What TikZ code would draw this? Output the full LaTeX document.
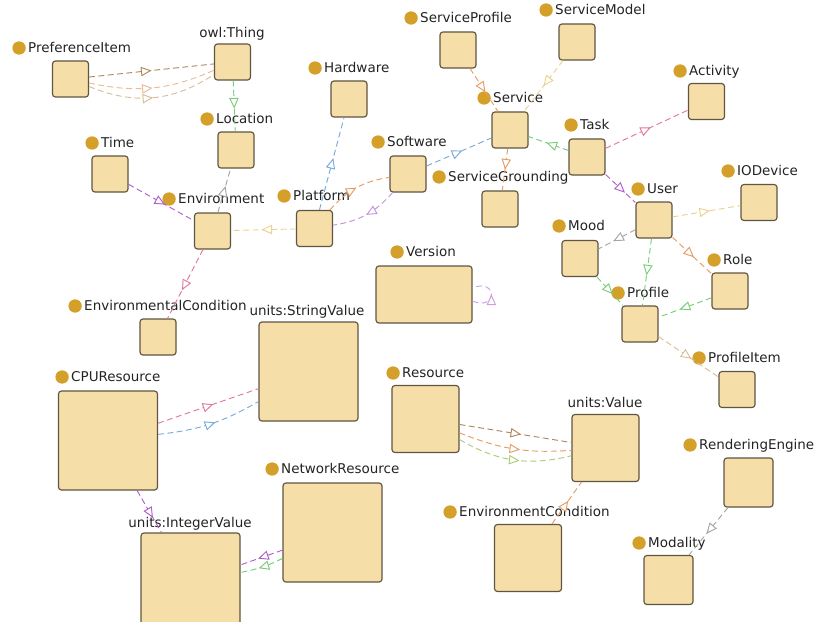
\documentclass[tikz,border=0pt]{standalone}
\usepackage{fontspec}
\setmainfont{DejaVu Sans}
\usetikzlibrary{arrows.meta,decorations.markings}

\definecolor{boxfill}{RGB}{245,222,168}
\definecolor{boxline}{RGB}{95,85,65}
\definecolor{dotcol}{RGB}{212,160,42}
\definecolor{txtcol}{RGB}{35,35,35}
\definecolor{egreen}{RGB}{120,205,120}
\definecolor{egrey}{RGB}{165,165,165}
\definecolor{epurple}{RGB}{175,95,205}
\definecolor{epink}{RGB}{225,120,160}
\definecolor{eblue}{RGB}{120,170,220}
\definecolor{eorange}{RGB}{230,155,100}
\definecolor{eyellow}{RGB}{235,210,140}
\definecolor{etan}{RGB}{215,190,150}
\definecolor{ebrown}{RGB}{175,135,95}
\definecolor{elime}{RGB}{170,205,120}

\begin{document}
\begin{tikzpicture}[x=0.03cm, y=-0.03cm,
	cls/.style={draw=boxline, fill=boxfill, line width=1pt, rounded corners=2.5pt, minimum size=1.08cm, inner sep=0pt},
	mid/.style={cls, minimum size=2.01cm},
	big/.style={cls, minimum size=2.97cm},
	title/.style={inner sep=0pt, text height=0.76em, text depth=0pt, text=txtcol, font=\fontsize{11.5}{13}\selectfont},
	dot/.style={circle, fill=dotcol, minimum size=0.4cm, inner sep=0pt},
	tag/.style={title, anchor=west, label={[dot, label distance=0.06cm]left:{}}},
	link/.style={line width=0.8pt, dash pattern=on 5pt off 3pt},
	arr/.style={postaction={decorate}, decoration={markings, mark=at position #1 with {\arrow[line width=0.8pt]{Triangle[fill=white, length=9pt, width=8pt]}}}}]

		\useasboundingbox (0,0) rectangle (817,622);
		\clip (0,0) rectangle (817,622);

		\node[cls] (prefitem) at (70.5,79) {};
		\node[cls] (thing) at (232.5,62) {};
		\node[cls] (location) at (236,150) {};
		\node[cls] (time) at (110,174) {};
		\node[cls] (environment) at (212.5,231) {};
		\node[cls] (hardware) at (349,99) {};
		\node[cls] (serviceprofile) at (458,50) {};
		\node[cls] (servicemodel) at (577,42) {};
		\node[cls] (service) at (510,130) {};
		\node[cls] (software) at (408,174) {};
		\node[cls] (grounding) at (500,209) {};
		\node[cls] (platform) at (314.5,228.5) {};
		\node[cls] (activity) at (706.5,101.5) {};
		\node[cls] (task) at (587,157) {};
		\node[cls] (user) at (654,220) {};
		\node[cls] (iodevice) at (759,202.5) {};
		\node[cls] (mood) at (580,258.5) {};
		\node[cls] (role) at (730,291) {};
		\node[cls] (profile) at (640,324) {};
		\node[cls] (profileitem) at (737,389.5) {};
		\node[cls] (envcond) at (158,337) {};
		\node[cls, minimum width=2.88cm, minimum height=1.71cm] (version) at (424,294.5) {};
		\node[mid] (value) at (605.5,448) {};
		\node[mid] (resource) at (425.5,419) {};
		\node[mid] (envcondition) at (528,558) {};
		\node[cls, minimum size=1.47cm] (rendering) at (748.5,482.5) {};
		\node[cls, minimum size=1.47cm] (modality) at (668.5,580) {};
		\node[big] (stringvalue) at (308.5,371.5) {};
		\node[big] (cpu) at (108,440.5) {};
		\node[big] (network) at (332.5,532.5) {};
		\node[big] (intvalue) at (190.5,582.5) {};

		\node[tag] (prefitemlbl) at (28,48) {PreferenceItem};
		\node[title] (thinglbl) at (232,33) {owl:Thing};
		\node[tag] (locationlbl) at (216,119) {Location};
		\node[tag] (timelbl) at (101,143) {Time};
		\node[tag] (environmentlbl) at (178,199) {Environment};
		\node[tag] (hardwarelbl) at (324,68) {Hardware};
		\node[tag] (serviceprofilelbl) at (420,18) {ServiceProfile};
		\node[tag] (servicemodellbl) at (555,10) {ServiceModel};
		\node[tag] (servicelbl) at (493,98) {Service};
		\node[tag] (softwarelbl) at (387,142) {Software};
		\node[tag] (groundinglbl) at (448,177) {ServiceGrounding};
		\node[tag] (platformlbl) at (293,196) {Platform};
		\node[tag] (activitylbl) at (689,71) {Activity};
		\node[tag] (tasklbl) at (580,125) {Task};
		\node[tag] (userlbl) at (647,189) {User};
		\node[tag] (iodevicelbl) at (737,171) {IODevice};
		\node[tag] (moodlbl) at (568,226) {Mood};
		\node[tag] (rolelbl) at (723,260) {Role};
		\node[tag] (profilelbl) at (627,293) {Profile};
		\node[tag] (profileitemlbl) at (708,358) {ProfileItem};
		\node[title] (valuelbl) at (605,403) {units:Value};
		\node[tag] (resourcelbl) at (402,373) {Resource};
		\node[tag] (envconditionlbl) at (459,512) {EnvironmentCondition};
		\node[tag] (renderinglbl) at (699,445) {RenderingEngine};
		\node[tag] (modalitylbl) at (648,543) {Modality};
		\node[tag] (versionlbl) at (406,252) {Version};
		\node[title] (stringlbl) at (307,311) {units:StringValue};
		\node[tag] (envcondlbl) at (84,306) {EnvironmentalCondition};
		\node[tag] (cpulbl) at (71,377) {CPUResource};
		\node[tag] (networklbl) at (281,469) {NetworkResource};
		\node[title] (integerlbl) at (190,523) {units:IntegerValue};

		\draw[link, ebrown, arr=0.5] (prefitem) -- (thing);
		\draw[link, eorange!70, arr=0.5] (prefitem) to[bend right=18] (thing);
		\draw[link, etan, arr=0.5] (prefitem) to[bend right=28] (thing);
		\draw[link, egreen, arr=0.55] (thing) -- (location);
		\draw[link, egrey, arr=0.6] (environment) -- (location);
		\draw[link, epurple, arr=0.56] (time) -- (environment);
		\draw[link, eyellow, arr=0.53] (platform) -- (environment);
		\draw[link, epink, arr=0.59] (environment) -- (envcond);
		\draw[link, eblue, arr=0.56] (platform) -- (hardware);
		\draw[link, eorange, arr=0.5] (platform) to[bend left=20] (software);
		\draw[link, epurple!70, arr=0.5] (software) to[bend left=20] (platform);
		\draw[link, eblue, arr=0.55] (software) -- (service);
		\draw[link, eorange, arr=0.55] (serviceprofile) -- (service);
		\draw[link, eyellow, arr=0.5] (servicemodel) -- (service);
		\draw[link, eorange, arr=0.5] (service) -- (grounding);
		\draw[link, egreen, arr=0.55] (task) -- (service);
		\draw[link, epink, arr=0.55] (task) -- (activity);
		\draw[link, epurple, arr=0.65] (task) -- (user);
		\draw[link, eyellow, arr=0.55] (user) -- (iodevice);
		\draw[link, egrey, arr=0.6] (user) -- (mood);
		\draw[link, egreen, arr=0.55] (user) -- (profile);
		\draw[link, eorange, arr=0.55] (user) -- (role);
		\draw[link, egreen, arr=0.6] (mood) -- (profile);
		\draw[link, egreen, arr=0.6] (role) -- (profile);
		\draw[link, etan, arr=0.55] (profile) -- (profileitem);
		\draw[link, epurple!60, arr=0.5] ([yshift=-0.2cm]version.east) .. controls +(25,10) and +(25,-10) .. ([yshift=0.2cm]version.east);
		\draw[link, epink, arr=0.55] (cpu) -- (stringvalue);
		\draw[link, eblue, arr=0.55] (cpu) to[bend right=12] (stringvalue);
		\draw[link, epurple, arr=0.65] (cpu) -- (intvalue);
		\draw[link, epurple, arr=0.58] (network) -- (intvalue);
		\draw[link, egreen, arr=0.58] (network) to[bend left=8] (intvalue);
		\draw[link, ebrown, arr=0.55] (resource) -- (value);
		\draw[link, eorange, arr=0.55] (resource) to[bend right=13] (value);
		\draw[link, elime, arr=0.55] (resource) to[bend right=22] (value);
		\draw[link, eorange, arr=0.55] (envcondition) -- (value);
		\draw[link, egrey, arr=0.55] (rendering) -- (modality);
	\end{tikzpicture}
\end{document}
